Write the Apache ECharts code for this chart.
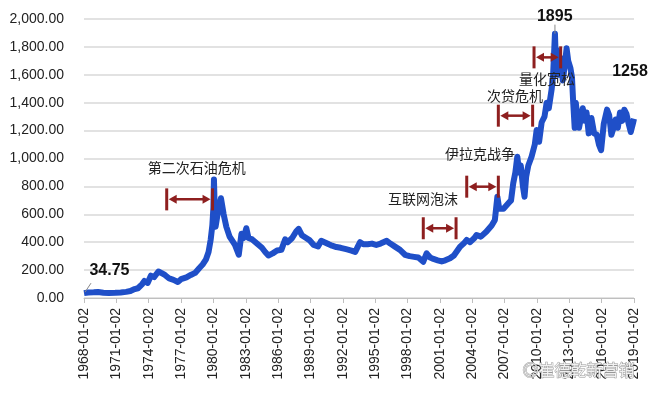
<!DOCTYPE html>
<html>
<head>
<meta charset="utf-8">
<script src="https://cdn.jsdelivr.net/npm/echarts@6/dist/echarts.min.js"></script>
<style>
html,body{margin:0;padding:0;background:#fff;}
#chart{width:652px;height:400px;}
</style>
</head>
<body>
<div id="chart"></div>
<script>
// Gold price (USD/oz), decimal years and values
const years = [
1968.0,1968.4,1968.9,1969.3,1969.8,1970.3,1970.9,1971.4,1971.9,1972.3,1972.7,1973.0,1973.4,1973.6,1973.9,
1974.2,1974.5,1974.9,1975.2,1975.5,1975.9,1976.3,1976.7,1977.0,1977.5,1977.9,1978.3,1978.7,1979.0,1979.3,
1979.55,1979.75,1979.9,1980.0,1980.05,1980.12,1980.2,1980.45,1980.7,1980.95,1981.2,1981.5,1981.7,1982.0,1982.35,
1982.6,1982.8,1983.05,1983.25,1983.6,1983.9,1984.2,1984.5,1984.8,1985.1,1985.5,1985.9,1986.3,1986.65,1986.9,
1987.3,1987.7,1987.9,1988.2,1988.6,1988.9,1989.3,1989.7,1990.0,1990.3,1990.7,1991.0,1991.4,1991.8,1992.3,
1992.8,1993.15,1993.4,1993.6,1993.9,1994.3,1994.7,1995.1,1995.5,1996.07,1996.4,1996.8,1997.3,1997.77,1998.2,
1998.6,1999.0,1999.46,1999.77,2000.1,2000.4,2000.8,2001.17,2001.5,2001.94,2002.3,2002.87,2003.2,2003.49,2003.8,
2004.2,2004.4,2004.8,2005.3,2005.8,2006.1,2006.33,2006.5,2006.6,2006.9,2007.35,2007.6,2007.8,2008.0,2008.18,
2008.35,2008.5,2008.7,2008.85,2009.0,2009.2,2009.5,2009.8,2009.97,2010.2,2010.44,2010.7,2010.9,2011.1,2011.37,
2011.5,2011.67,2011.75,2011.85,2012.0,2012.2,2012.4,2012.6,2012.75,2012.9,2013.1,2013.25,2013.35,2013.5,2013.6,
2013.75,2013.9,2014.1,2014.25,2014.45,2014.6,2014.8,2015.05,2015.3,2015.55,2015.75,2015.95,2016.2,2016.5,2016.7,
2016.9,2017.1,2017.3,2017.5,2017.7,2017.9,2018.1,2018.3,2018.5,2018.7,2018.9,2019.0
];
const prices = [
34.75,40,41,43,38,36,37,40,44,50,64,70,100,122,108,
160,150,190,178,165,140,130,115,135,148,165,180,215,240,275,
330,420,520,650,850,640,510,630,715,600,510,440,416,380,310,
460,430,500,430,420,400,380,360,330,305,320,340,345,420,400,
430,480,495,450,430,415,380,370,410,400,385,375,365,360,350,
340,330,370,400,385,385,390,380,390,410,390,370,345,310,300,
295,290,260,320,290,280,270,262,270,285,305,368,390,416,400,
430,452,440,475,520,560,726,640,631,640,679,700,822,900,1013,
900,950,800,726,870,950,1013,1100,1204,1120,1260,1300,1400,1360,1500,
1600,1895,1700,1780,1600,1720,1560,1680,1790,1700,1650,1580,1420,1220,1400,
1300,1220,1300,1360,1270,1330,1180,1290,1180,1170,1100,1060,1250,1350,1310,
1170,1220,1280,1220,1330,1270,1350,1320,1250,1190,1250,1285
];

// Y tick range
const yTicks = [0,200,400,600,800,1000,1200,1400,1600,1800,2000];

// Events (period start, period end, level on value axis) and their captions
const eventNames = ['第二次石油危机','互联网泡沫','伊拉克战争','次贷危机','量化宽松'];
const eventStart = [1975.67,1999.46,2003.49,2006.42,2009.73];
const eventEnd   = [1979.92,2002.5,2006.42,2009.6,2012.2];
const eventLevel = [707,500,798,1307,1725];
const eventTextX = [1978.45,1999.43,2004.72,2007.97,2010.93];
const eventTextY = [932,710,1037,1450,1575];

// Highlighted values
const valueLabels = ['34.75','1895','1258'];
const valueLabelX = [1970.36,2011.65,2018.63];
const valueLabelY = [194,2016,1622];

const lineData = years.map((y,i)=>[y,prices[i]]);
const eventData = eventNames.map((n,i)=>[eventStart[i],eventEnd[i],eventLevel[i]]);
const eventTextData = eventNames.map((n,i)=>[eventTextX[i],eventTextY[i]]);
const valueLabelData = valueLabels.map((n,i)=>[valueLabelX[i],valueLabelY[i]]);

const RED = '#8e1f1f';
const chart = echarts.init(document.getElementById('chart'), null, {renderer:'canvas'});
chart.setOption({
  animation:false,
  grid:{left:84,right:18,top:19,bottom:102},
  xAxis:{
    type:'value',min:1968,max:2019,interval:3,
    splitLine:{show:false},
    axisLine:{show:true,lineStyle:{color:'#bfbfbf',width:1}},
    axisTick:{show:true,length:5,lineStyle:{color:'#bfbfbf'}},
    axisLabel:{rotate:90,margin:10,fontSize:14,color:'#222',fontFamily:'Liberation Sans, Arial',
      formatter:v=>v+'-01-02'}
  },
  yAxis:{
    type:'value',min:yTicks[0],max:yTicks[yTicks.length-1],interval:yTicks[1]-yTicks[0],
    axisLine:{show:false},axisTick:{show:false},
    splitLine:{lineStyle:{color:'#d9d9d9',width:1.5}},
    axisLabel:{margin:20,fontSize:14,color:'#222',fontFamily:'Liberation Sans, Arial',
      formatter:v=>v.toLocaleString('en-US',{minimumFractionDigits:2,maximumFractionDigits:2})}
  },
  series:[
    {
      type:'line',data:lineData,showSymbol:false,symbol:'none',
      lineStyle:{color:'#1f4fc8',width:6,join:'round'},z:2
    },
    {
      type:'custom',coordinateSystem:'cartesian2d',data:eventData,z:3,
      encode:{x:[0,1],y:2},
      renderItem:(params,api)=>{
        const s = api.coord([api.value(0),api.value(2)]);
        const e = api.coord([api.value(1),api.value(2)]);
        const h = 11, y = s[1];
        const st = {stroke:RED,lineWidth:3};
        return {type:'group',children:[
          {type:'line',shape:{x1:s[0],y1:y-h,x2:s[0],y2:y+h},style:st},
          {type:'line',shape:{x1:e[0],y1:y-h,x2:e[0],y2:y+h},style:st},
          {type:'line',shape:{x1:s[0]+6,y1:y,x2:e[0]-6,y2:y},style:{stroke:RED,lineWidth:2.5}},
          {type:'polygon',shape:{points:[[s[0]+2,y],[s[0]+10,y-4.5],[s[0]+10,y+4.5]]},style:{fill:RED}},
          {type:'polygon',shape:{points:[[e[0]-2,y],[e[0]-10,y-4.5],[e[0]-10,y+4.5]]},style:{fill:RED}}
        ]};
      }
    },
    {
      type:'custom',coordinateSystem:'cartesian2d',data:eventTextData,z:4,
      renderItem:(params,api)=>{
        const p = api.coord([api.value(0),api.value(1)]);
        return {type:'text',x:p[0],y:p[1],style:{text:eventNames[params.dataIndex],fill:'#222',
          fontSize:14,fontFamily:'Noto Sans CJK SC',align:'center',verticalAlign:'middle'}};
      }
    },
    {
      type:'custom',coordinateSystem:'cartesian2d',data:valueLabelData,z:4,
      renderItem:(params,api)=>{
        const p = api.coord([api.value(0),api.value(1)]);
        const children = [{type:'text',x:p[0],y:p[1],style:{text:valueLabels[params.dataIndex],fill:'#111',
          fontSize:16,fontWeight:'bold',fontFamily:'Liberation Sans, Arial',align:'center',verticalAlign:'middle'}}];
        if(params.dataIndex===0){
          const a = api.coord([years[0],prices[0]]);
          children.push({type:'line',shape:{x1:a[0]+1,y1:a[1]-1,x2:a[0]+7,y2:a[1]-10},style:{stroke:'#888',lineWidth:1}});
        }
        if(params.dataIndex===1){
          const k = prices.indexOf(1895);
          const a = api.coord([years[k],prices[k]]);
          children.push({type:'line',shape:{x1:a[0],y1:a[1],x2:a[0],y2:a[1]-9},style:{stroke:'#888',lineWidth:1}});
        }
        return {type:'group',children};
      }
    }
  ],
  graphic:[
    {type:'text',left:522,top:361,style:{text:'◎崔德乾新营销',fill:'rgba(255,255,255,0.85)',stroke:'#999',lineWidth:1,
      fontSize:16,fontFamily:'Noto Sans CJK SC'},z:10}
  ]
});
</script>
</body>
</html>
